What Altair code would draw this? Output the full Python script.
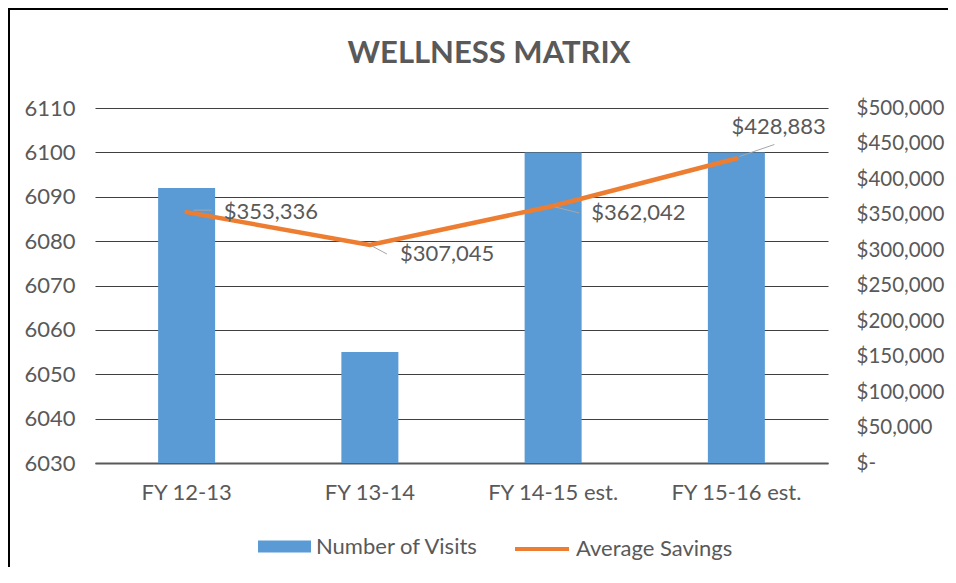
import altair as alt
import pandas as pd

categories = ["FY 12-13", "FY 13-14", "FY 14-15 est.", "FY 15-16 est."]
visits = [6092, 6055, 6100, 6100]
savings = [353336, 307045, 362042, 428883]
visit_ticks = [6030, 6040, 6050, 6060, 6070, 6080, 6090, 6100, 6110]
savings_ticks = [0, 50000, 100000, 150000, 200000, 250000, 300000, 350000, 400000, 450000, 500000]
title_text = ["WELLNESS MATRIX"]

df = pd.DataFrame({"cat": categories, "visits": visits, "savings": savings})
df["label"] = df["savings"].map(lambda v: f"${v:,}")

FONT = "Lato"
TXT = "#595959"
BLUE = "#5B9BD5"
ORANGE = "#ED7D31"
FS = 22
W, H = 733, 355

xaxis = alt.Axis(title=None, labelAngle=0, domain=True, domainColor="#595959", domainWidth=2,
                 ticks=False, labelPadding=19, labelFont=FONT, labelFontSize=FS, labelColor=TXT)
xscale = alt.Scale(paddingInner=0, paddingOuter=0)


def xenc(band=None):
    if band is None:
        return alt.X("cat:N", sort=categories, scale=xscale, axis=xaxis)
    return alt.X("cat:N", sort=categories, scale=xscale, axis=xaxis, bandPosition=band)


sav_scale = alt.Scale(domain=[0, 500000], nice=False, zero=True)
sav_axis = alt.Axis(title=None, orient="right", values=savings_ticks, grid=False, domain=False,
                    ticks=False, labelAlign="left", labelPadding=28, labelFont=FONT,
                    labelFontSize=20.5, labelColor=TXT,
                    labelExpr="datum.value == 0 ? '$-' : '$' + format(datum.value, ',')")


def yenc():
    return alt.Y("savings:Q", scale=sav_scale, axis=sav_axis)


bars = alt.Chart(df).transform_calculate(series="'Number of Visits'").mark_bar(size=57).encode(
    x=xenc(),
    y=alt.Y("visits:Q", scale=alt.Scale(domain=[6030, 6110], nice=False, zero=False, clamp=True),
            axis=alt.Axis(title=None, values=visit_ticks, format="d", grid=True, gridColor="#404040",
                          gridWidth=1.2, domain=False, ticks=False, labelPadding=20, labelFont=FONT,
                          labelFontSize=FS, labelColor=TXT)),
    fill=alt.Fill("series:N", scale=alt.Scale(domain=["Number of Visits"], range=[BLUE]),
                  legend=alt.Legend(title=None, orient="none", legendX=163, legendY=412,
                                    direction="horizontal", symbolType="M-1,-0.23H1V0.23H-1Z",
                                    symbolSize=2809, symbolStrokeWidth=0, labelFont=FONT,
                                    labelFontSize=FS, labelColor=TXT, labelOffset=5, padding=0,
                                    labelLimit=400)),
)

line = alt.Chart(df).transform_calculate(series="'Average Savings'").mark_line(
    strokeWidth=4.5, strokeCap="round").encode(
    x=xenc(0.5),
    y=yenc(),
    stroke=alt.Stroke("series:N", scale=alt.Scale(domain=["Average Savings"], range=[ORANGE]),
                      legend=alt.Legend(title=None, orient="none", legendX=418, legendY=412,
                                        direction="horizontal", symbolType="stroke",
                                        symbolSize=2916, symbolStrokeWidth=4, labelFont=FONT,
                                        labelFontSize=FS, labelColor=TXT, labelOffset=5, padding=0,
                                        labelLimit=400)),
)

# label placement (styling only)
label_style = {
    "FY 12-13": dict(dx=37, dy=0, lead=(7, 25, -2, -2)),
    "FY 13-14": dict(dx=30, dy=9, lead=(2, 17, 1, 9)),
    "FY 14-15 est.": dict(dx=38, dy=7, lead=(2, 26, 1, 7)),
    "FY 15-16 est.": dict(dx=-5, dy=-31, lead=(3, 38, -2, -14)),
}

label_layers = []
for c in categories:
    st = label_style[c]
    x0, x1, y0, y1 = st["lead"]
    rule = alt.Chart(df).transform_filter(alt.datum.cat == c).mark_rule(
        color="#A6A6A6", strokeWidth=1, xOffset=x0, x2Offset=x1, yOffset=y0, y2Offset=y1).encode(
        x=xenc(0.5),
        x2=alt.X2("cat", bandPosition=0.5),
        y=yenc(),
        y2=alt.Y2("savings"),
    )
    txt = alt.Chart(df).transform_filter(alt.datum.cat == c).mark_text(
        align="left", baseline="middle", dx=st["dx"], dy=st["dy"], font=FONT, fontSize=FS,
        color=TXT).encode(
        x=xenc(0.5),
        y=yenc(),
        text="label:N",
    )
    label_layers += [rule, txt]

one = pd.DataFrame({"a": [0]})
frame_top = alt.Chart(one).mark_rule(color="black", strokeWidth=2, strokeCap="butt").encode(
    x=alt.value(-87), x2=alt.value(853), y=alt.value(-99))
frame_left = alt.Chart(one).mark_rule(color="black", strokeWidth=2, strokeCap="butt").encode(
    x=alt.value(-86), y=alt.value(-100), y2=alt.value(459))

title = alt.Chart(pd.DataFrame({"t": title_text})).mark_text(
    font=FONT, fontSize=31, fontWeight="bold", color=TXT, align="center", baseline="middle").encode(
    text="t:N", x=alt.value(394), y=alt.value(-54))

right = alt.layer(line, *label_layers)

chart = alt.layer(frame_top, frame_left, title, bars, right).resolve_scale(y="independent").properties(
    width=W, height=H,
    autosize=alt.AutoSizeParams(type="none"),
    padding={"left": 87, "top": 100, "right": 120, "bottom": 104},
).configure_view(stroke=None)

chart.save("out.html", embed_options={"renderer": "svg", "actions": False})
